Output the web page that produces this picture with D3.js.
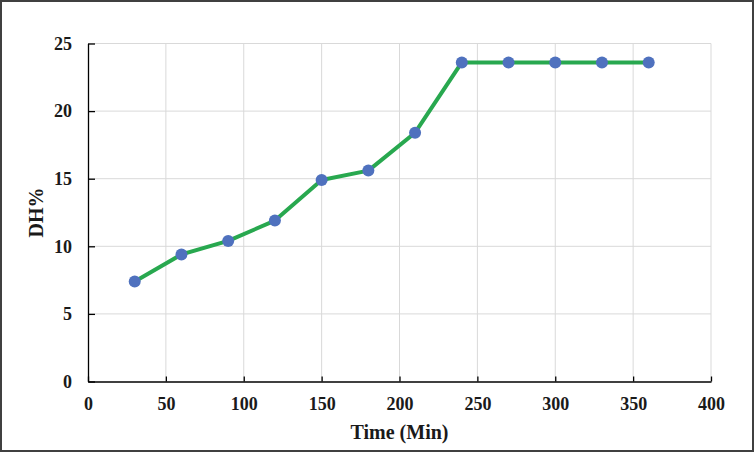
<!DOCTYPE html>
<html>
<head>
<meta charset="utf-8">
<script src="https://cdn.jsdelivr.net/npm/d3@7"></script>
<style>
  body { margin: 0; background: #fff; }
  svg { display: block; }
</style>
</head>
<body>
<div id="wrapper"></div>
<script>
// data
const times = [30, 60, 90, 120, 150, 180, 210, 240, 270, 300, 330, 360]
const dhValues = [7.4, 9.4, 10.4, 11.9, 14.9, 15.6, 18.4, 23.6, 23.6, 23.6, 23.6, 23.6]
const xTicks = [0, 50, 100, 150, 200, 250, 300, 350, 400]
const yTicks = [0, 5, 10, 15, 20, 25]

function drawLine() {
  const dataset = times.map((t, i) => ({ t: t, v: dhValues[i] }))
  const xAccessor = d => d.t
  const yAccessor = d => d.v

  let dimensions = {
    width: 754,
    height: 452,
    margin: { top: 43.5, right: 43, bottom: 70.5, left: 88 },
  }
  dimensions.boundedWidth = dimensions.width - dimensions.margin.left - dimensions.margin.right
  dimensions.boundedHeight = dimensions.height - dimensions.margin.top - dimensions.margin.bottom

  const wrapper = d3.select("#wrapper")
    .append("svg")
    .attr("width", dimensions.width)
    .attr("height", dimensions.height)
    .style("font-family", "'Liberation Serif', 'Times New Roman', serif")

  // outer frame
  wrapper.append("rect")
    .attr("x", 1)
    .attr("y", 1)
    .attr("width", dimensions.width - 2)
    .attr("height", dimensions.height - 2)
    .attr("fill", "#fff")
    .attr("stroke", "#404040")
    .attr("stroke-width", 2)

  const bounds = wrapper.append("g")
    .attr("transform", `translate(${dimensions.margin.left}, ${dimensions.margin.top})`)

  const xScaler = d3.scaleLinear()
    .domain([0, 400])
    .range([0, dimensions.boundedWidth])

  const yScaler = d3.scaleLinear()
    .domain([0, 25])
    .range([dimensions.boundedHeight, 0])

  // gridlines
  bounds.append("g")
    .selectAll("line")
    .data(xTicks.filter(d => d > 0))
    .join("line")
    .attr("x1", d => xScaler(d))
    .attr("x2", d => xScaler(d))
    .attr("y1", 0)
    .attr("y2", dimensions.boundedHeight)
    .attr("stroke", "#d9d9d9")
    .attr("stroke-width", 1)

  bounds.append("g")
    .selectAll("line")
    .data(yTicks.filter(d => d > 0))
    .join("line")
    .attr("x1", 0)
    .attr("x2", dimensions.boundedWidth)
    .attr("y1", d => yScaler(d))
    .attr("y2", d => yScaler(d))
    .attr("stroke", "#d9d9d9")
    .attr("stroke-width", 1)

  // axes, ticks pointing inward
  const xAxis = bounds.append("g")
    .attr("transform", `translate(0, ${dimensions.boundedHeight})`)
    .call(d3.axisBottom(xScaler).tickValues(xTicks).tickSizeInner(-5).tickSizeOuter(0).tickPadding(16))

  const yAxis = bounds.append("g")
    .call(d3.axisLeft(yScaler).tickValues(yTicks).tickSizeInner(-7).tickSizeOuter(0).tickPadding(16))

  ;[xAxis, yAxis].forEach(ax => {
    ax.select(".domain").attr("stroke", "#000").attr("stroke-width", 1.3)
    ax.selectAll(".tick line").attr("stroke", "#000").attr("stroke-width", 1.3)
    ax.selectAll(".tick text")
      .attr("fill", "#1a1a1a")
      .style("font-family", "'Liberation Serif', 'Times New Roman', serif")
      .style("font-size", "18px")
      .style("font-weight", "bold")
  })

  // line
  const lineGenerator = d3.line()
    .x(d => xScaler(xAccessor(d)))
    .y(d => yScaler(yAccessor(d)))

  bounds.append("path")
    .datum(dataset)
    .attr("d", lineGenerator)
    .attr("fill", "none")
    .attr("stroke", "#28a84f")
    .attr("stroke-width", 4)
    .attr("stroke-linejoin", "round")

  bounds.append("g")
    .selectAll("circle")
    .data(dataset)
    .join("circle")
    .attr("cx", d => xScaler(xAccessor(d)))
    .attr("cy", d => yScaler(yAccessor(d)))
    .attr("r", 6)
    .attr("fill", "#4f71be")

  // axis titles
  wrapper.append("text")
    .attr("x", dimensions.margin.left + dimensions.boundedWidth / 2)
    .attr("y", 439)
    .attr("text-anchor", "middle")
    .attr("font-size", "20px")
    .attr("font-weight", "bold")
    .attr("fill", "#1a1a1a")
    .text("Time (Min)")

  wrapper.append("text")
    .attr("transform", `translate(43, ${dimensions.margin.top + dimensions.boundedHeight / 2}) rotate(-90)`)
    .attr("text-anchor", "middle")
    .attr("font-size", "20px")
    .attr("font-weight", "bold")
    .attr("fill", "#1a1a1a")
    .text("DH%")
}

drawLine()
</script>
</body>
</html>
